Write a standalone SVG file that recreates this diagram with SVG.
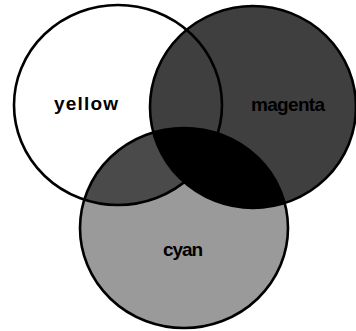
<svg xmlns="http://www.w3.org/2000/svg" width="356" height="331" viewBox="0 0 356 331">
<style>
.c{stroke:#000;stroke-width:2.6;fill:none}
.lbl{font-family:"Liberation Sans",Arial,sans-serif;font-weight:bold;font-size:19px;fill:#000;text-anchor:middle}
</style>
<defs>
<clipPath id="clipY"><ellipse cx="118" cy="105" rx="104" ry="100"/></clipPath>
<clipPath id="clipM"><ellipse cx="253" cy="107" rx="103" ry="101"/></clipPath>
</defs>
<rect width="356" height="331" fill="#fff"/>
<g id="magenta">
<ellipse cx="253" cy="107" rx="103" ry="101" fill="#3f3f3f"/>
</g>
<g id="cyan">
<ellipse cx="184" cy="228" rx="104" ry="100" fill="#9a9a9a"/>
<ellipse cx="184" cy="228" rx="104" ry="100" fill="#4a4a4a" clip-path="url(#clipY)"/>
<ellipse cx="184" cy="228" rx="104" ry="100" fill="#000" clip-path="url(#clipM)"/>
</g>
<g id="outlines">
<ellipse class="c" cx="118" cy="105" rx="104" ry="100"/>
<ellipse class="c" cx="253" cy="107" rx="103" ry="101"/>
<ellipse class="c" cx="184" cy="228" rx="104" ry="100"/>
</g>
<g id="yellow"><text class="lbl" x="86" y="110" textLength="64">yellow</text></g>
<g id="magenta-label"><text class="lbl" x="288" y="111" textLength="74">magenta</text></g>
<g id="cyan-label"><text class="lbl" x="183" y="256" textLength="40">cyan</text></g>
</svg>
